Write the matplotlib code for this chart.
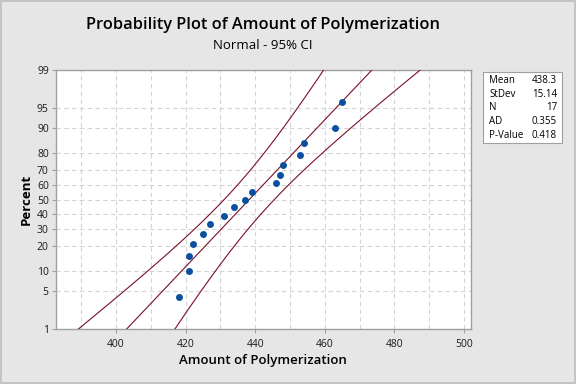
import numpy as np
import matplotlib.pyplot as plt
from matplotlib.patches import Rectangle
from statistics import NormalDist

# data
amount = [418, 421, 421, 422, 425, 427, 431, 434, 437, 439, 446, 447, 448, 453, 454, 463, 465]
percent = [4.0, 9.8, 15.5, 21.3, 27.0, 32.8, 38.5, 44.3, 50.0, 55.7, 61.5, 67.2, 73.0, 78.7, 84.5, 90.2, 96.0]
y_ticks = [1, 5, 10, 20, 30, 40, 50, 60, 70, 80, 90, 95, 99]
x_ticks = [400, 420, 440, 460, 480, 500]
stat_names = ["Mean", "StDev", "N", "AD", "P-Value"]
stat_values = ["438.3", "15.14", "17", "0.355", "0.418"]
mean, sd, n = 438.3, 15.14, 17

plt.rcParams['font.family'] = ['Open Sans', 'DejaVu Sans']

nd = NormalDist()
def zq(p):
    return nd.inv_cdf(p / 100.0)

fig = plt.figure(figsize=(5.76, 3.84), dpi=100)
fig.patch.set_facecolor('#E6E6E6')
fig.patch.set_edgecolor('#C4C4C4')
fig.patch.set_linewidth(1.5)

ax = fig.add_axes([0.0967, 0.1432, 0.7205, 0.6745])
ax.set_facecolor('white')

# fitted line and 95% CI
zz = np.linspace(-2.8, 2.8, 300)
fit = mean + sd * zz
se = sd * np.sqrt(1.0 / n + zz ** 2 / (2 * n))
line_col = '#7A1025'
ax.plot(fit, zz, color=line_col, lw=0.8, zorder=3)
ax.plot(fit - 1.96 * se, zz, color=line_col, lw=0.8, zorder=3)
ax.plot(fit + 1.96 * se, zz, color=line_col, lw=0.8, zorder=3)

# points
ax.plot(amount, [zq(p) for p in percent], 'o', color='#0A4FA0', ms=5, mec='none', zorder=4)

ax.set_xlim(382.7, 501.9)
ax.set_ylim(zq(1), zq(99))

ax.set_xticks(x_ticks)
ax.set_xticks(np.arange(390, 501, 10), minor=True)
ax.set_yticks([zq(p) for p in y_ticks])
ax.set_yticklabels([str(p) for p in y_ticks])
ax.tick_params(axis='both', which='major', labelsize=7.5, length=3, color='#A0A0A0',
               labelcolor='#1A1A1A', pad=2)
ax.tick_params(axis='x', which='minor', length=0)
ax.tick_params(axis='x', pad=4)

ax.grid(True, which='both', color='#D4D4D4', ls=(0, (4, 3)), lw=0.8, zorder=0)
ax.set_axisbelow(True)
for s in ax.spines.values():
    s.set_color('#A0A0A0')
    s.set_linewidth(1)

ax.set_xlabel("Amount of Polymerization", fontsize=9.5, fontweight='semibold', labelpad=3)
ax.set_ylabel("Percent", fontsize=9.5, fontweight='bold', labelpad=3)

fig.text(0.457, 0.935, "Probability Plot of Amount of Polymerization",
         ha='center', va='center', fontsize=11.8, fontweight='semibold')
fig.text(0.457, 0.882, "Normal - 95% CI", ha='center', va='center', fontsize=9.5)

# stats box
bx0, bx1 = 483 / 576, 562 / 576
by0, by1 = 1 - 143 / 384, 1 - 72 / 384
fig.patches.append(Rectangle((bx0, by0), bx1 - bx0, by1 - by0, transform=fig.transFigure,
                             facecolor='white', edgecolor='#A0A0A0', lw=0.8))
rows_y = [80.7, 94.3, 107.7, 121, 135]
for name, val, yy in zip(stat_names, stat_values, rows_y):
    fig.text(489 / 576, 1 - yy / 384, name, ha='left', va='center', fontsize=7)
    fig.text(557 / 576, 1 - yy / 384, val, ha='right', va='center', fontsize=7)

fig.savefig("out.png", dpi=100, facecolor=fig.get_facecolor(), edgecolor=fig.get_edgecolor())
